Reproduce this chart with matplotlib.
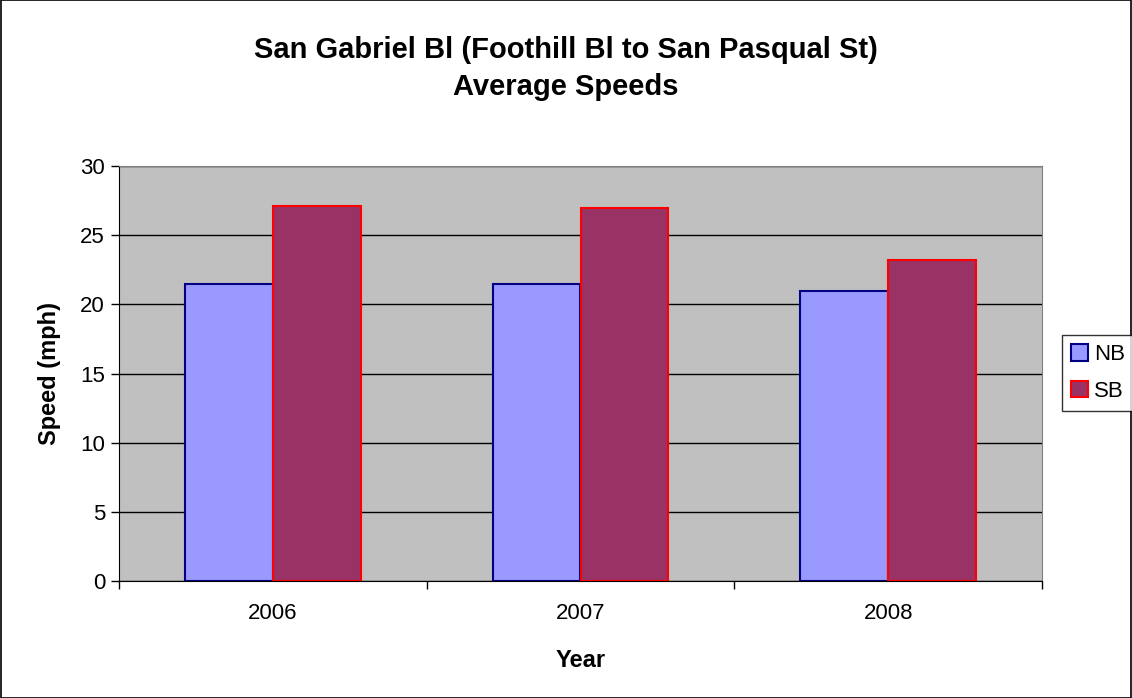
import matplotlib
matplotlib.use("Agg")
import matplotlib.pyplot as plt
import numpy as np
from matplotlib.patches import Rectangle

plt.rcParams['font.family'] = ['Liberation Sans', 'DejaVu Sans']

years = ["2006", "2007", "2008"]
nb = [21.5, 21.5, 21.0]
sb = [27.1, 27.0, 23.2]
yticks = [0, 5, 10, 15, 20, 25, 30]

fig = plt.figure(figsize=(11.32, 6.98), dpi=100)
ax = fig.add_axes([119/1132, 1 - 581/698, (1042-119)/1132, (581-166)/698])
ax.set_facecolor('#C0C0C0')

x = np.arange(len(years))
w = 1/3.5
ax.bar(x - w/2, nb, width=w, color='#9999FF', edgecolor='#000080', linewidth=1.5, label='NB', zorder=3)
ax.bar(x + w/2, sb, width=w, color='#993366', edgecolor='#FF0000', linewidth=1.5, label='SB', zorder=3)

ax.set_xlim(-0.5, 2.5)
ax.set_ylim(0, 30)
ax.set_yticks(yticks)
ax.yaxis.grid(True, color='black', linewidth=1)
ax.set_axisbelow(True)
ax.set_xticks(x)
ax.set_xticklabels(years, fontsize=16)
ax.tick_params(axis='x', length=0, pad=16)
ax.set_xticks([-0.5, 0.5, 1.5, 2.5], minor=True)
ax.tick_params(axis='x', which='minor', length=6, width=1, direction='out')
ax.tick_params(axis='y', length=6, width=1, labelsize=16, direction='out', pad=4)
for s in ['top', 'right']:
    ax.spines[s].set_color('#808080')
for s in ['left', 'bottom']:
    ax.spines[s].set_color('black')

ax.set_xlabel('Year', fontsize=17, fontweight='bold', labelpad=18)
ax.set_ylabel('Speed (mph)', fontsize=17, fontweight='bold', labelpad=14)

fig.text(0.5, 1 - 50/698, 'San Gabriel Bl (Foothill Bl to San Pasqual St)', ha='center', va='center',
         fontsize=21, fontweight='bold')
fig.text(0.5, 1 - 87/698, 'Average Speeds', ha='center', va='center', fontsize=21, fontweight='bold')

leg = fig.legend(loc='center left', bbox_to_anchor=(1062/1132, 1 - 373/698), fontsize=16,
                 frameon=True, fancybox=False, edgecolor='black', handlelength=0.75, handleheight=0.75,
                 handletextpad=0.3, borderpad=0.4, labelspacing=0.7, borderaxespad=0)
leg.get_frame().set_linewidth(1)

fig.patches.append(Rectangle((0.0005, 0.0005), 0.999, 0.999, transform=fig.transFigure,
                             fill=False, edgecolor='black', linewidth=1.2))

fig.savefig('out.png', dpi=100)
